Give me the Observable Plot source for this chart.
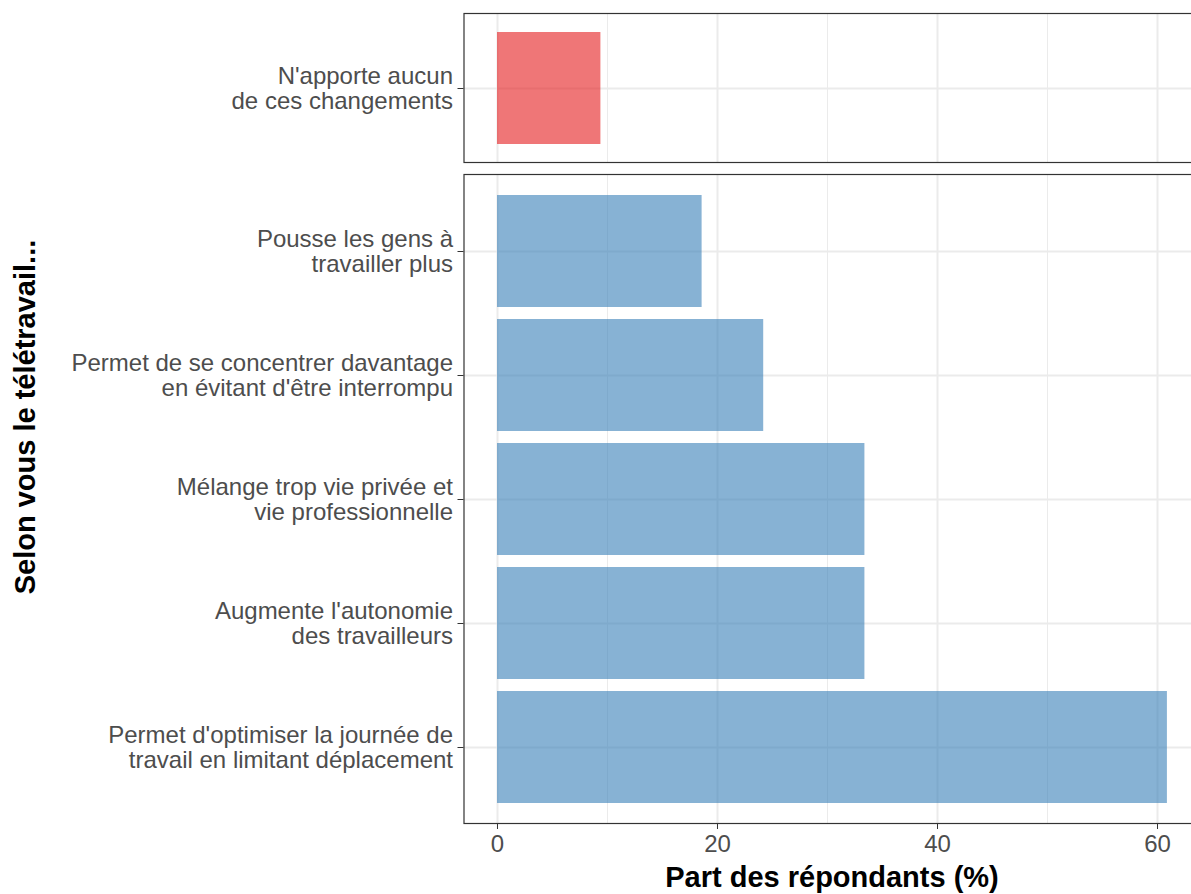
<!DOCTYPE html>
<html>
<head>
<meta charset="utf-8">
<script src="https://cdn.jsdelivr.net/npm/d3@7"></script>
<script src="https://cdn.jsdelivr.net/npm/@observablehq/plot@0.6"></script>
<style>
  html, body { margin: 0; padding: 0; background: #fff; overflow: hidden; }
  body { width: 1191px; height: 894px; position: relative; font-family: "Liberation Sans", Arial, sans-serif; }
  #top, #bottom { position: absolute; left: 0; width: 1210px; }
  #top { top: 0; }
  #bottom { top: 161px; }
  #top svg, #bottom svg { max-width: none !important; }
  .title { position: absolute; font-weight: bold; font-size: 29px; line-height: 29px; color: #000; white-space: nowrap; }
  #xtitle { left: 832px; top: 863px; transform: translateX(-50%); }
  #ytitle { left: 25px; top: 417px; transform: translate(-50%, -50%) rotate(-90deg); }
</style>
</head>
<body>
<div id="top"></div>
<div id="bottom"></div>
<div class="title" id="xtitle">Part des répondants (%)</div>
<div class="title" id="ytitle">Selon vous le télétravail...</div>
<script>
// Data
const topCategories = ["N'apporte aucun\nde ces changements"];
const topValues = [9.4];
const bottomCategories = [
  "Pousse les gens à\ntravailler plus",
  "Permet de se concentrer davantage\nen évitant d'être interrompu",
  "Mélange trop vie privée et\nvie professionnelle",
  "Augmente l'autonomie\ndes travailleurs",
  "Permet d'optimiser la journée de\ntravail en limitant déplacement"
];
const bottomValues = [18.6, 24.2, 33.4, 33.4, 60.9];
const majorTicks = [0, 20, 40, 60];
const minorTicks = [10, 30, 50];
const topColor = "#E41A1C";
const bottomColor = "#377EB8";

const topData = topCategories.map((c, i) => ({cat: c, value: topValues[i]}));
const bottomData = bottomCategories.map((c, i) => ({cat: c, value: bottomValues[i]}));

const maxV = d3.max([...topValues, ...bottomValues]);
const xDomain = [-0.05 * maxV, maxV * 1.05];

const font = "Liberation Sans, Arial, sans-serif";
const common = {
  width: 1202,
  marginLeft: 463.5,
  marginRight: 1.6,
  style: {fontFamily: font, background: "transparent", overflow: "visible", maxWidth: "none"},
};

function panelMarks(data, color) {
  return [
    Plot.gridX(minorTicks, {stroke: "#EBEBEB", strokeOpacity: 1, strokeWidth: 1}),
    Plot.gridX(majorTicks, {stroke: "#EBEBEB", strokeOpacity: 1, strokeWidth: 2}),
    Plot.gridY({stroke: "#EBEBEB", strokeOpacity: 1, strokeWidth: 2}),
    Plot.barX(data, {x: "value", y: "cat", fill: color, fillOpacity: 0.6}),
    Plot.frame({stroke: "#333333", strokeWidth: 1.2}),
    Plot.axisY({
      tickSize: 6, tickPadding: 5, fontSize: 24, lineHeight: 1.05,
      stroke: "#333333", fill: "#4D4D4D", label: null,
      tickFormat: d => d, textOverflow: null
    })
  ];
}

const topPlot = Plot.plot({
  ...common,
  height: 163,
  marginTop: 13,
  marginBottom: 1,
  x: {domain: xDomain, axis: null},
  y: {type: "band", domain: topCategories, paddingInner: 0.1, paddingOuter: 0.15, label: null},
  marks: panelMarks(topData, topColor)
});
document.getElementById("top").appendChild(topPlot);

const bottomPlot = Plot.plot({
  ...common,
  height: 733,
  marginTop: 13,
  marginBottom: 71,
  x: {domain: xDomain, label: null},
  y: {type: "band", domain: bottomCategories, paddingInner: 0.1, paddingOuter: 0.15, label: null},
  marks: [
    ...panelMarks(bottomData, bottomColor),
    Plot.axisX(majorTicks, {
      tickSize: 6, tickPadding: 5, fontSize: 24,
      stroke: "#333333", fill: "#4D4D4D", label: null
    })
  ]
});
document.getElementById("bottom").appendChild(bottomPlot);
</script>
</body>
</html>
